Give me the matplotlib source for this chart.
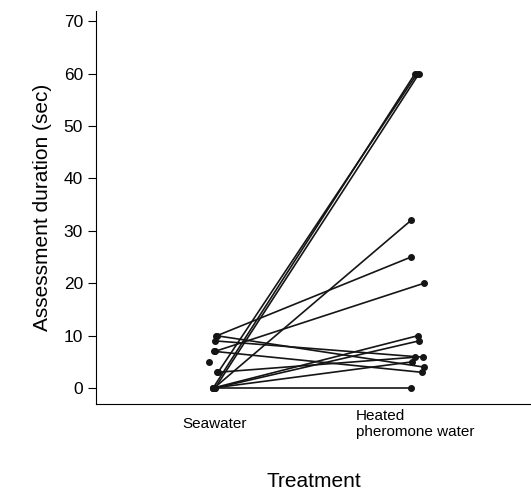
import matplotlib.pyplot as plt

plt.rcParams['font.family'] = ['Liberation Sans', 'DejaVu Sans']

# paired observations: assessment duration (sec) in each treatment
seawater = [0, 0, 3, 0, 10, 7, 0, 0, 10, 7, 9, 3, 0, 0]
heated = [60, 60, 60, 32, 25, 20, 10, 9, 4, 3, 6, 6, 5, 0]
# small horizontal jitter as drawn in the original
jit_sw = [-0.01, 0.0, 0.015, -0.005, 0.01, 0.0, -0.01, 0.0, 0.005, -0.005, 0.0, 0.01, -0.01, -0.005]
jit_ht = [0.0, 0.02, 0.01, -0.02, -0.02, 0.045, 0.015, 0.02, 0.045, 0.035, 0.0, 0.04, -0.015, -0.02]
unpaired_sw = [5]
categories = ['Seawater', 'Heated\npheromone water']

fig = plt.figure(figsize=(5.31, 4.90), dpi=100)
ax = fig.add_axes([0.181, 0.176, 0.819, 0.802])

for s, h, js, jh in zip(seawater, heated, jit_sw, jit_ht):
    ax.plot([1 + js, 2 + jh], [s, h], color='#151515', lw=1.2,
            marker='o', ms=4, mfc='#151515', mec='#151515')
ax.plot([1 - 0.03] * len(unpaired_sw), unpaired_sw, 'o', color='#151515', ms=4)

ax.set_xlim(0.405, 2.58)
ax.set_ylim(-3, 72)
ax.set_yticks(range(0, 71, 10))
ax.set_xticks([1, 2])
ax.set_xticklabels(categories, fontsize=11, multialignment='left', va='center')
ax.tick_params(axis='x', length=0, pad=14.5)
ax.tick_params(axis='y', labelsize=12.5, length=6, direction='out')
for sp in ['top', 'right']:
    ax.spines[sp].set_visible(False)
ax.set_ylabel('Assessment duration (sec)', fontsize=15, labelpad=8)
ax.set_xlabel('Treatment', fontsize=15, labelpad=24)

fig.savefig('out.png', dpi=100)
